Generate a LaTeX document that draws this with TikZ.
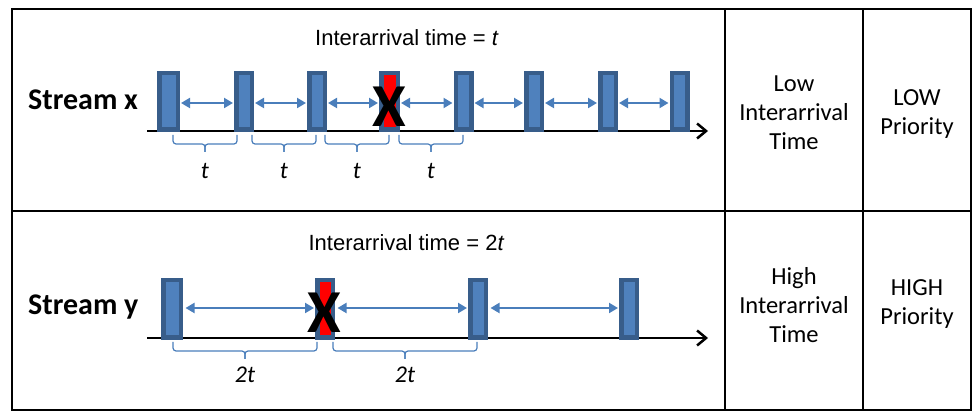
\documentclass[tikz,border=0pt]{standalone}
\usepackage{fontspec}
\setmainfont{Carlito}
\newfontfamily\arialfont{Liberation Sans}
\usetikzlibrary{arrows.meta}
\definecolor{pktedge}{RGB}{56,93,138}
\definecolor{pktfill}{RGB}{79,129,189}
\definecolor{gapblue}{RGB}{74,126,187}
% curly bracket under an interval: left x, right x, top y
\newcommand\pktbrace[3]{%
  \draw[brc] (#1,#3) |- ({(#1+#2)/2},{#3+9}) -- ({(#1+#2)/2},{#3+17});
  \draw[brc] (#2,#3) |- ({(#1+#2)/2},{#3+9}) -- ({(#1+#2)/2},{#3+17});
}
\begin{document}
\begin{tikzpicture}[x=1pt,y=-1pt,
  pkt/.style={draw=pktedge, fill=pktfill, line width=4.5pt, inner sep=0pt,
              minimum width=15.5pt, minimum height=56.5pt},
  lost/.style={pkt, fill=red},
  gap/.style={draw=gapblue, line width=2pt, shorten <=1pt, shorten >=1pt,
              {Triangle[length=9pt,width=10pt]}-{Triangle[length=9pt,width=10pt]}},
  axisline/.style={draw=black, line width=2.5pt,
              -{Straight Barb[length=9pt,width=15pt]}},
  brc/.style={draw=gapblue, line width=1.2pt, rounded corners=3pt},
  frame/.style={draw=black, line width=2.2pt},
  grid/.style={draw=black, line width=1.6pt},
  xmark/.style={inner sep=0pt, font=\fontsize{61}{61}\selectfont\bfseries},
  tlabel/.style={anchor=base, inner sep=0pt, font=\fontsize{24}{24}\selectfont\itshape},
  stream/.style={anchor=base west, inner sep=0pt, font=\fontsize{30}{30}\selectfont\bfseries},
  head/.style={anchor=base, inner sep=0pt, font=\arialfont\fontsize{22}{22}\selectfont},
  cell/.style={align=center, inner sep=0pt, font=\fontsize{24.5}{29}\selectfont}]

\useasboundingbox (0,0) rectangle (972,411);

% table frame
\draw[frame] (12,9) rectangle (971,410);
\draw[grid] (12,211) -- (971,211);
\draw[grid] (725,9) -- (725,410);
\draw[grid] (863,9) -- (863,410);

% ---------- stream x ----------
\node[stream] (sx) at (28,110) {Stream x};
\node[head] (hx) at (407,46) {Interarrival time = \textit{t}};

\coordinate (xs) at (147,131);
\coordinate (xe) at (708,131);
\draw[axisline] (xs) -- (xe);

\node[pkt, minimum width=18.5pt] (b1) at (168.5,101.5) {};
\node[pkt] (b2) at (244,101.5) {};
\node[pkt] (b3) at (317,101.5) {};
\node[lost, minimum width=16.5pt] (b4) at (389.5,101.5) {};
\node[pkt] (b5) at (463.5,101.5) {};
\node[pkt] (b6) at (534,101.5) {};
\node[pkt] (b7) at (608,101.5) {};
\node[pkt] (b8) at (679.5,101.5) {};

\foreach \a/\b in {b1/b2,b2/b3,b3/b4,b4/b5,b5/b6,b6/b7,b7/b8}
  \draw[gap] ([yshift=-1.5pt]\a.east) -- ([yshift=-1.5pt]\b.west);

\node[xmark] (xx) at ([yshift=-5pt]b4.center) {X};

\pktbrace{173}{237}{135}
\pktbrace{252}{316}{135}
\pktbrace{325}{389}{135}
\pktbrace{399}{463}{135}
\node[tlabel] (tx1) at (205,179) {t};
\node[tlabel] (tx2) at (284,179) {t};
\node[tlabel] (tx3) at (357,179) {t};
\node[tlabel] (tx4) at (431,179) {t};

\node[cell] (lit) at (794,113) {Low\\Interarrival\\Time};
\node[cell] (lp) at (917,114) {LOW\\Priority};

% ---------- stream y ----------
\node[stream] (sy) at (28,315) {Stream y};
\node[head] (hy) at (406.5,251) {Interarrival time = 2\textit{t}};

\coordinate (ys) at (147,338);
\coordinate (ye) at (708,338);
\draw[axisline] (ys) -- (ye);

\node[pkt, minimum width=17.5pt, minimum height=57.5pt] (c1) at (172,309) {};
\node[lost, minimum height=57.5pt] (c2) at (325,309) {};
\node[pkt, minimum height=57.5pt] (c3) at (478,309) {};
\node[pkt, minimum height=57.5pt] (c4) at (629,309) {};

\foreach \a/\b in {c1/c2,c2/c3,c3/c4}
  \draw[gap, shorten <=2.5pt] ([yshift=1pt]\a.east) -- ([yshift=1pt]\b.west);

\node[xmark] (xy) at ([xshift=-1pt,yshift=-4pt]c2.center) {X};

\pktbrace{173}{317}{342}
\pktbrace{333}{477}{342}
\node[tlabel] (ty1) at (245,383) {2t};
\node[tlabel] (ty2) at (405,383) {2t};

\node[cell] (hit) at (794,305) {High\\Interarrival\\Time};
\node[cell] (hp) at (917,304.5) {HIGH\\Priority};

\end{tikzpicture}
\end{document}
